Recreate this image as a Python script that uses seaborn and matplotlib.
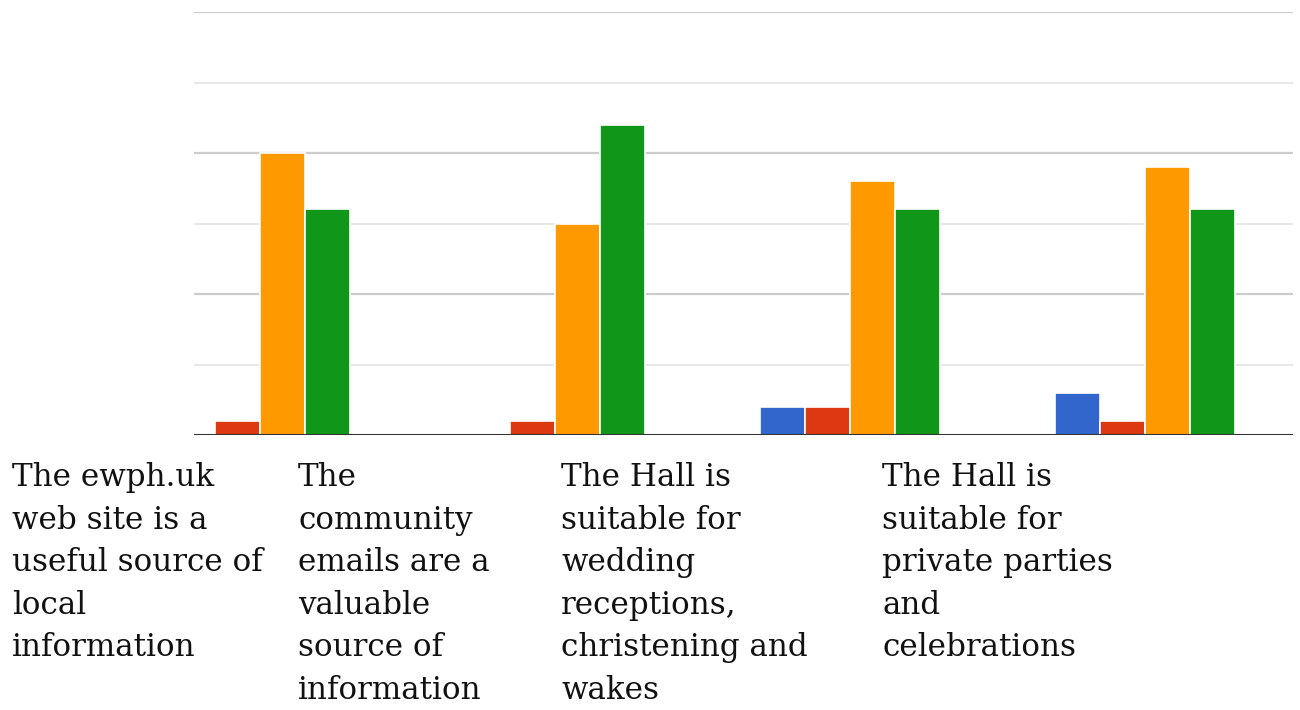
import matplotlib
matplotlib.use("Agg")
import matplotlib.pyplot as plt
import pandas as pd
import seaborn as sns

# data
categories = [
    "The ewph.uk\nweb site is a\nuseful source of\nlocal\ninformation",
    "The\ncommunity\nemails are a\nvaluable\nsource of\ninformation",
    "The Hall is\nsuitable for\nwedding\nreceptions,\nchristening and\nwakes",
    "The Hall is\nsuitable for\nprivate parties\nand\ncelebrations",
]
series = ["S1", "S2", "S3", "S4"]
s1 = [0, 0, 2, 3]
s2 = [1, 1, 2, 1]
s3 = [20, 15, 18, 19]
s4 = [16, 22, 16, 16]

colors = ["#3366cc", "#dc3912", "#ff9900", "#109618"]

rows = []
for cat_i, cat in enumerate(categories):
    for name, vals in zip(series, [s1, s2, s3, s4]):
        rows.append({"cat": cat_i, "series": name, "value": vals[cat_i]})
df = pd.DataFrame(rows)

sns.set_theme(style="white")
plt.rcParams["font.family"] = ["DejaVu Serif"]

fig = plt.figure(figsize=(13, 7.1), dpi=100)
ax = fig.add_axes([194 / 1300, 1 - 435 / 710, 1099 / 1300, 423 / 710])

sns.barplot(data=df, x="cat", y="value", hue="series", palette=colors,
            width=0.61, edgecolor="white", linewidth=1.2, ax=ax,
            legend=False, errorbar=None, saturation=1)

# gridlines
for y in [5, 15, 25]:
    ax.axhline(y, color="#e8e8e8", linewidth=1.5, zorder=0)
for y in [10, 20, 30]:
    ax.axhline(y, color="#cccccc", linewidth=1.6, zorder=0)
ax.axhline(0, color="#333333", linewidth=2.2, zorder=5)

ax.set_ylim(0, 30)
ax.set_xlim(-0.225, 3.5)
ax.set_xticks([])
ax.set_yticks([])
ax.set_xlabel("")
ax.set_ylabel("")
for sp in ax.spines.values():
    sp.set_visible(False)

# category labels, placed like the original
label_x = [12, 298, 561, 882]
for txt, px in zip(categories, label_x):
    fig.text(px / 1300, 1 - 462 / 710, txt, ha="left", va="top",
             fontsize=22.3, color="#111111", linespacing=1.48)

fig.savefig("out.png", dpi=100)
